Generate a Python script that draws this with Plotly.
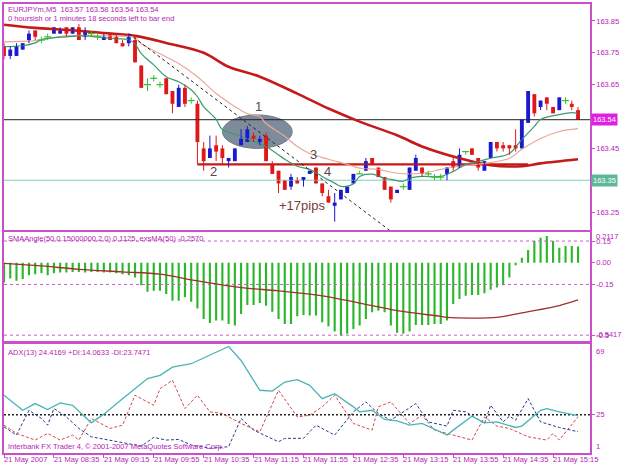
import plotly.graph_objects as go

# ---------------- DATA ----------------
bars = list(range(93))
opens = [163.77,163.74,163.74,163.76,163.79,163.82,163.79,163.80,163.81,163.81,
         163.83,163.81,163.83,163.80,163.81,163.80,163.79,163.81,163.80,163.78,
         163.78,163.79,163.71,163.65,163.67,163.65,163.67,163.63,163.58,163.64,
         163.60,163.59,163.45,163.42,163.46,163.45,163.41,163.41,163.46,163.47,
         163.49,163.47,163.49,163.40,163.38,163.35,163.33,163.35,163.35,163.37,
         163.39,163.34,163.30,163.27,163.29,163.31,163.34,163.37,163.38,163.42,
         163.39,163.36,163.33,163.31,163.33,163.32,163.38,163.39,163.37,163.36,
         163.36,163.37,163.41,163.39,163.44,163.45,163.42,163.38,163.42,163.47,
         163.46,163.46,163.46,163.45,163.53,163.62,163.58,163.61,163.58,163.57,
         163.60,163.59,163.57]
highs = [163.78,163.77,163.78,163.78,163.82,163.82,163.80,163.81,163.83,163.83,
         163.83,163.83,163.84,163.83,163.82,163.81,163.81,163.81,163.81,163.79,
         163.81,163.80,163.71,163.67,163.68,163.66,163.67,163.63,163.65,163.65,
         163.61,163.60,163.47,163.49,163.49,163.46,163.42,163.45,163.51,163.52,
         163.50,163.49,163.50,163.41,163.38,163.35,163.37,163.36,163.36,163.38,
         163.39,163.34,163.32,163.31,163.32,163.33,163.37,163.38,163.42,163.42,
         163.39,163.36,163.33,163.32,163.34,163.39,163.43,163.39,163.38,163.37,
         163.37,163.39,163.42,163.45,163.44,163.45,163.42,163.41,163.47,163.47,
         163.47,163.46,163.51,163.54,163.63,163.62,163.60,163.61,163.58,163.61,
         163.61,163.60,163.58]
lows = [163.73,163.73,163.74,163.76,163.78,163.79,163.78,163.79,163.81,163.81,
        163.80,163.81,163.79,163.79,163.80,163.79,163.79,163.79,163.78,163.77,
        163.77,163.72,163.64,163.63,163.66,163.64,163.62,163.56,163.58,163.58,
        163.59,163.40,163.38,163.42,163.41,163.40,163.39,163.41,163.46,163.47,
        163.47,163.46,163.41,163.37,163.31,163.32,163.32,163.34,163.33,163.37,
        163.34,163.30,163.28,163.22,163.29,163.31,163.34,163.37,163.38,163.40,
        163.36,163.32,163.28,163.31,163.32,163.32,163.38,163.36,163.36,163.35,
        163.35,163.35,163.38,163.39,163.43,163.43,163.38,163.38,163.42,163.44,
        163.44,163.43,163.44,163.45,163.53,163.55,163.57,163.57,163.56,163.57,
        163.59,163.57,163.54]
closes = [163.74,163.76,163.77,163.78,163.81,163.80,163.79,163.80,163.83,163.82,
          163.81,163.83,163.79,163.82,163.81,163.80,163.80,163.79,163.78,163.77,
          163.80,163.72,163.64,163.65,163.67,163.65,163.62,163.59,163.64,163.59,
          163.60,163.47,163.41,163.45,163.44,163.42,163.42,163.45,163.48,163.51,
          163.48,163.48,163.41,163.37,163.34,163.32,163.36,163.34,163.36,163.38,
          163.34,163.31,163.28,163.28,163.32,163.33,163.37,163.37,163.41,163.40,
          163.36,163.32,163.29,163.32,163.33,163.39,163.42,163.37,163.37,163.36,
          163.36,163.39,163.39,163.43,163.44,163.43,163.39,163.41,163.47,163.45,
          163.45,163.45,163.45,163.54,163.63,163.56,163.60,163.59,163.56,163.61,
          163.60,163.58,163.54]

# moving averages (bar index, price)
fast_ma_x = [0,3,5,6,10,13,16,18,20,21,22,24,26,28,30,31,32,34,35,38,40,42,45,47,49,51,53,54,56,57,59,61,62,64,65,67,70,72,74,76,78,81,83,85,86,89,91,92]
fast_ma_y = [163.769,163.772,163.781,163.791,163.800,163.803,163.797,163.794,163.791,163.778,163.747,163.712,
             163.675,163.659,163.634,163.612,163.581,163.541,163.509,163.488,163.472,163.456,163.416,163.394,
             163.384,163.362,163.341,163.331,163.338,163.362,163.369,163.356,163.353,163.347,163.356,163.362,
             163.362,163.378,163.400,163.409,163.419,163.434,163.478,163.519,163.541,163.556,163.562,163.559]
mid_ma_x = [0,5,10,16,21,22,25,28,31,34,37,39,41,42,45,47,49,52,55,57,60,63,67,70,73,77,81,83,86,89,92]
mid_ma_y = [163.784,163.788,163.803,163.803,163.797,163.778,163.747,163.716,163.675,163.622,163.581,163.559,
            163.550,163.528,163.488,163.456,163.434,163.416,163.400,163.388,163.384,163.372,163.372,163.384,
            163.394,163.403,163.419,163.447,163.481,163.503,163.512]
slow_ma_x = [0,5,10,16,21,26,32,36,41,47,52,57,63,67,73,78,83,86,92]
slow_ma_y = [163.838,163.828,163.822,163.812,163.803,163.781,163.750,163.706,163.675,163.622,163.575,163.534,
             163.491,163.456,163.419,163.397,163.394,163.403,163.416]

# drawn objects
trend_x = [20, 62]
trend_y = [163.81, 163.19]
support_level = 163.40
support_x = [31, 84]
hline_level = 163.35

# SMAAngle histogram and its MA
angle_vals = [-0.136,-0.109,-0.125,-0.113,-0.086,-0.079,-0.072,-0.086,-0.072,-0.068,
              -0.068,-0.063,-0.063,-0.068,-0.063,-0.063,-0.068,-0.068,-0.072,-0.079,
              -0.086,-0.102,-0.155,-0.200,-0.194,-0.194,-0.216,-0.262,-0.262,-0.239,
              -0.269,-0.315,-0.388,-0.416,-0.399,-0.399,-0.422,-0.434,-0.354,-0.292,
              -0.292,-0.278,-0.296,-0.338,-0.388,-0.422,-0.422,-0.370,-0.361,-0.365,
              -0.365,-0.411,-0.438,-0.475,-0.503,-0.491,-0.457,-0.434,-0.388,-0.342,
              -0.331,-0.342,-0.434,-0.484,-0.491,-0.475,-0.429,-0.429,-0.429,-0.422,
              -0.422,-0.399,-0.285,-0.250,-0.228,-0.223,-0.223,-0.210,-0.187,-0.171,
              -0.155,-0.102,-0.017,0.035,0.088,0.150,0.172,0.184,0.150,0.104,
              0.115,0.115,0.1125]
angle_ma_x = [0,6,12,19,25,31,38,44,51,57,63,70,71,79,82,89,92]
angle_ma_y = [-0.004,-0.022,-0.045,-0.063,-0.079,-0.125,-0.171,-0.194,-0.228,-0.278,-0.331,-0.370,-0.377,
              -0.377,-0.354,-0.296,-0.257]
angle_levels = [0.15, -0.15, -0.5]
angle_max, angle_min = 0.2117, -0.5417
angle_ticks = [0.15, 0.0, -0.15, -0.5]
angle_tick_text = ["0.15", "0.00", "-0.15", "-0.5"]

# ADX
adx_x = [0,3,5,7,9,11,14,16,19,23,25,27,30,33,36,38,41,43,45,47,49,51,53,56,57,59,61,63,65,67,71,72,75,77,79,82,83,86,87,89,90,92]
adx_y = [37.6,27.9,32.2,28.4,32.6,31.1,19.8,25.4,35.4,48.3,50.4,55.7,57.9,63.2,69.0,60.0,40.8,40.3,46.1,47.6,
         44.0,35.4,38.6,30.1,26.9,27.9,22.0,21.1,18.3,19.4,11.9,15.1,24.1,19.8,20.4,16.8,17.7,27.9,29.0,26.9,26.2,24.4]
pdi_x = [0,2,4,6,7,8,10,12,14,17,20,22,24,26,28,30,33,36,38,40,44,45,48,50,53,56,58,60,62,66,68,71,72,74,77,78,80,81,82,84,86,89,92]
pdi_y = [17.2,11.9,27.9,22.6,18.3,29.0,23.6,16.2,10.8,8.7,6.6,4.8,10.4,8.7,9.1,5.5,3.4,4.4,22.6,15.1,7.6,9.8,9.8,
         18.3,11.9,26.9,33.3,25.8,21.5,32.2,20.4,17.7,27.9,26.9,19.4,31.1,20.4,24.1,21.5,35.4,20.4,16.8,14.06]
mdi_x = [0,2,5,7,9,11,12,14,17,19,21,24,25,27,29,31,33,35,38,41,44,47,49,51,53,56,59,60,62,65,67,69,72,75,77,79,81,84,87,88,89,92]
mdi_y = [18.3,13.0,8.7,13.0,8.7,11.9,8.7,22.6,16.2,18.3,37.6,31.1,41.8,47.2,29.0,37.6,26.9,25.8,19.4,14.0,40.8,
         23.6,24.7,30.1,37.6,19.4,15.1,30.1,33.3,19.4,24.7,15.1,11.9,8.7,23.6,17.7,16.2,10.8,8.7,13.0,8.7,23.75]
adx_level = 25
adx_max, adx_min = 69, 1

price_ticks = [163.85, 163.75, 163.65, 163.45, 163.25]
time_tick_bars = [0, 8, 16, 24, 32, 40, 48, 56, 64, 72, 80, 88]
time_labels = ["21 May 2007", "21 May 08:35", "21 May 09:15", "21 May 09:55", "21 May 10:35",
               "21 May 11:15", "21 May 11:55", "21 May 12:35", "21 May 13:15", "21 May 13:55",
               "21 May 14:35", "21 May 15:15"]

chart_labels = [("1", 40.8, 163.58), ("2", 33.6, 163.378), ("3", 49.6, 163.431),
                ("4", 51.8, 163.378), ("+17pips", 47.8, 163.272)]
ellipse_bars = (35.0, 46.2)
ellipse_prices = (163.45, 163.555)

title_main = "EURJPYm,M5  163.57 163.58 163.54 163.54"
title_sub = "0 hoursish or 1 minutes 18 seconds left to bar end"
title_angle = "SMAAngle(50,0.15000000,2,0) 0.1125, exsMA(50) -0.2570"
title_adx = "ADX(13) 24.4169 +DI:14.0633 -DI:23.7471"
copyright_txt = "Interbank FX Trader 4, © 2001-2007 MetaQuotes Software Corp."

# ---------------- STYLE ----------------
FONT = "Liberation Sans"
MAG = "#b41eb4"
BORDER = "#c850c8"
UP = "#1a1ad0"
DN = "#e01818"
DOJI = "#30c030"
XR = [0, 93.92]

fig = go.Figure()

def color_of(o, c):
    return UP if c > o else (DN if c < o else DOJI)

cols = [color_of(o, c) for o, c in zip(opens, closes)]

fig.add_trace(go.Scatter(x=XR, y=[closes[-1]] * 2, mode="lines", line=dict(color="#202020", width=1),
                         xaxis="x", yaxis="y", hoverinfo="skip"))
fig.add_trace(go.Scatter(x=XR, y=[hline_level] * 2, mode="lines", line=dict(color="#80d0b8", width=1.2),
                         xaxis="x", yaxis="y", hoverinfo="skip"))

fig.add_trace(go.Scatter(x=slow_ma_x, y=slow_ma_y, mode="lines", line=dict(color="#c41a1a", width=2.6, shape="spline"),
                         xaxis="x", yaxis="y", hoverinfo="skip"))
fig.add_trace(go.Scatter(x=support_x, y=[support_level] * 2, mode="lines", line=dict(color="#c41a1a", width=2.2),
                         xaxis="x", yaxis="y", hoverinfo="skip"))
fig.add_trace(go.Scatter(x=mid_ma_x, y=mid_ma_y, mode="lines", line=dict(color="#e8a898", width=1.2, shape="spline"),
                         xaxis="x", yaxis="y", hoverinfo="skip"))
fig.add_trace(go.Scatter(x=fast_ma_x, y=fast_ma_y, mode="lines", line=dict(color="#3a9a70", width=1.2, shape="spline"),
                         xaxis="x", yaxis="y", hoverinfo="skip"))

for colr in (UP, DN, DOJI):
    wx, wy = [], []
    for i in bars:
        if cols[i] == colr:
            wx += [i, i, None]
            wy += [lows[i], highs[i], None]
    fig.add_trace(go.Scatter(x=wx, y=wy, mode="lines", line=dict(color=colr, width=1),
                             xaxis="x", yaxis="y", hoverinfo="skip"))

body_base = [min(o, c) for o, c in zip(opens, closes)]
body_h = [abs(c - o) for o, c in zip(opens, closes)]
fig.add_trace(go.Bar(x=bars, y=body_h, base=body_base, width=0.62, marker=dict(color=cols, line=dict(width=0)),
                     xaxis="x", yaxis="y", hoverinfo="skip"))
dx = [i for i in bars if cols[i] == DOJI]
fig.add_trace(go.Scatter(x=dx, y=[closes[i] for i in dx], mode="markers",
                         marker=dict(symbol="line-ew", size=5, line=dict(color=DOJI, width=1.2)),
                         xaxis="x", yaxis="y", hoverinfo="skip"))

fig.add_trace(go.Scatter(x=trend_x, y=trend_y, mode="lines", line=dict(color="#222222", width=1, dash="3px,3px"),
                         xaxis="x", yaxis="y", hoverinfo="skip"))

# panel 2
for lv in angle_levels:
    fig.add_trace(go.Scatter(x=XR, y=[lv, lv], mode="lines", line=dict(color="#c860c8", width=1, dash="3px,3px"),
                             xaxis="x2", yaxis="y2", hoverinfo="skip"))
fig.add_trace(go.Bar(x=bars, y=angle_vals, width=0.34, marker=dict(color="#2ab82a", line=dict(width=0)),
                     xaxis="x2", yaxis="y2", hoverinfo="skip"))
fig.add_trace(go.Scatter(x=angle_ma_x, y=angle_ma_y, mode="lines", line=dict(color="#a0302a", width=1.3, shape="spline"),
                         xaxis="x2", yaxis="y2", hoverinfo="skip"))

# panel 3
fig.add_trace(go.Scatter(x=XR, y=[adx_level] * 2, mode="lines", line=dict(color="#222222", width=1.5, dash="2px,2px"),
                         xaxis="x3", yaxis="y3", hoverinfo="skip"))
fig.add_trace(go.Scatter(x=pdi_x, y=pdi_y, mode="lines", line=dict(color="#2a3a8a", width=1, dash="3px,2px"),
                         xaxis="x3", yaxis="y3", hoverinfo="skip"))
fig.add_trace(go.Scatter(x=mdi_x, y=mdi_y, mode="lines", line=dict(color="#d04a4a", width=1, dash="3px,2px"),
                         xaxis="x3", yaxis="y3", hoverinfo="skip"))
fig.add_trace(go.Scatter(x=adx_x, y=adx_y, mode="lines", line=dict(color="#4ab4b4", width=1.3),
                         xaxis="x3", yaxis="y3", hoverinfo="skip"))

# ---------------- LAYOUT ----------------
H = 469
top, bot = 2, 453
ph = bot - top
def dom(y_top, y_bot):
    return [(bot - y_bot) / ph, (bot - y_top) / ph]

axis_common = dict(showgrid=False, zeroline=False, showline=True, mirror=True,
                   linecolor=BORDER, linewidth=1.5)
FS = 7.5
yfont = dict(family=FONT, size=FS, color=MAG)

fig.update_layout(
    width=625, height=H, margin=dict(l=3, r=35, t=top, b=H - bot),
    paper_bgcolor="white", plot_bgcolor="white", showlegend=False, barmode="overlay",
    xaxis=dict(domain=[0, 1], range=XR, anchor="y", showticklabels=False, **axis_common),
    xaxis2=dict(domain=[0, 1], range=XR, anchor="y2", matches="x", showticklabels=False, **axis_common),
    xaxis3=dict(domain=[0, 1], range=XR, anchor="y3", matches="x", showticklabels=False,
                tickvals=time_tick_bars, ticks="outside", ticklen=3, tickcolor=BORDER, **axis_common),
    yaxis=dict(domain=dom(2, 229), range=[163.194, 163.903], side="right", anchor="x",
               tickvals=price_ticks, ticktext=[f"{v:.2f}" for v in price_ticks], ticks="outside",
               ticklen=3, tickcolor=BORDER, tickfont=yfont, **axis_common),
    yaxis2=dict(domain=dom(231, 341), range=[-0.5436, 0.2125], side="right", anchor="x2",
                tickvals=angle_ticks, ticktext=angle_tick_text, ticks="outside", ticklen=3,
                tickcolor=BORDER, tickfont=yfont, **axis_common),
    yaxis3=dict(domain=dom(344, 453), range=[0.36, 70.3], side="right", anchor="x3",
                tickvals=[adx_level], ticktext=[str(adx_level)], ticks="outside", ticklen=3,
                tickcolor=BORDER, tickfont=yfont, **axis_common),
)

fig.add_shape(type="circle", xref="x", yref="y", x0=ellipse_bars[0], x1=ellipse_bars[1],
              y0=ellipse_prices[0], y1=ellipse_prices[1], fillcolor="#7d8b9b",
              line=dict(color="#6d7b8b", width=1), layer="below")

tfont = dict(family=FONT, size=FS, color=MAG)
ann = []
ann.append(dict(text=title_main, xref="paper", yref="paper", x=0, y=1, xanchor="left", yanchor="top",
                xshift=2, yshift=1, showarrow=False, font=tfont))
ann.append(dict(text=title_sub, xref="paper", yref="paper", x=0, y=1, xanchor="left", yanchor="top",
                xshift=2, yshift=-8, showarrow=False, font=tfont))
ann.append(dict(text=title_angle, xref="paper", yref="paper", x=0, y=dom(231, 341)[1], xanchor="left",
                yanchor="top", xshift=2, yshift=0, showarrow=False, font=tfont))
ann.append(dict(text=title_adx, xref="paper", yref="paper", x=0, y=dom(344, 453)[1], xanchor="left",
                yanchor="top", xshift=2, yshift=-2, showarrow=False, font=tfont))
ann.append(dict(text=copyright_txt, xref="paper", yref="paper", x=0, y=0, xanchor="left",
                yanchor="bottom", xshift=2, yshift=0, showarrow=False, font=tfont))
for b, lab in zip(time_tick_bars, time_labels):
    ann.append(dict(text=lab, xref="x3", yref="paper", x=b, y=0, xanchor="left", yanchor="top",
                    xshift=-2, yshift=0, showarrow=False, font=tfont))
for t, bx, py in chart_labels:
    ann.append(dict(text=t, xref="x", yref="y", x=bx, y=py, showarrow=False,
                    font=dict(family=FONT, size=13, color="#7a3a3a" if t.startswith("+") else "#5a4646")))
# right-scale max / min labels of the indicator windows
ann.append(dict(text=f"{angle_max:.4f}", xref="paper", yref="y2", x=1, y=angle_max, xanchor="left",
                yanchor="top", xshift=4, yshift=2, showarrow=False, font=yfont))
ann.append(dict(text=f"{angle_min:.4f}", xref="paper", yref="y2", x=1, y=angle_min, xanchor="left",
                yanchor="bottom", xshift=4, yshift=0, showarrow=False, font=yfont))
ann.append(dict(text=str(adx_max), xref="paper", yref="y3", x=1, y=adx_max, xanchor="left",
                yanchor="top", xshift=4, yshift=2, showarrow=False, font=yfont))
ann.append(dict(text=str(adx_min), xref="paper", yref="y3", x=1, y=adx_min, xanchor="left",
                yanchor="bottom", xshift=4, yshift=-1, showarrow=False, font=yfont))
ann.append(dict(text=f"{closes[-1]:.2f}", xref="paper", yref="y", x=1, y=closes[-1], xanchor="left",
                xshift=1, showarrow=False, bgcolor="#e020e0", font=dict(family=FONT, size=FS, color="white")))
ann.append(dict(text=f"{hline_level:.2f}", xref="paper", yref="y", x=1, y=hline_level, xanchor="left",
                xshift=1, showarrow=False, bgcolor="#5cb898", font=dict(family=FONT, size=FS, color="white")))
fig.update_layout(annotations=ann)

fig.write_html("out.html")
